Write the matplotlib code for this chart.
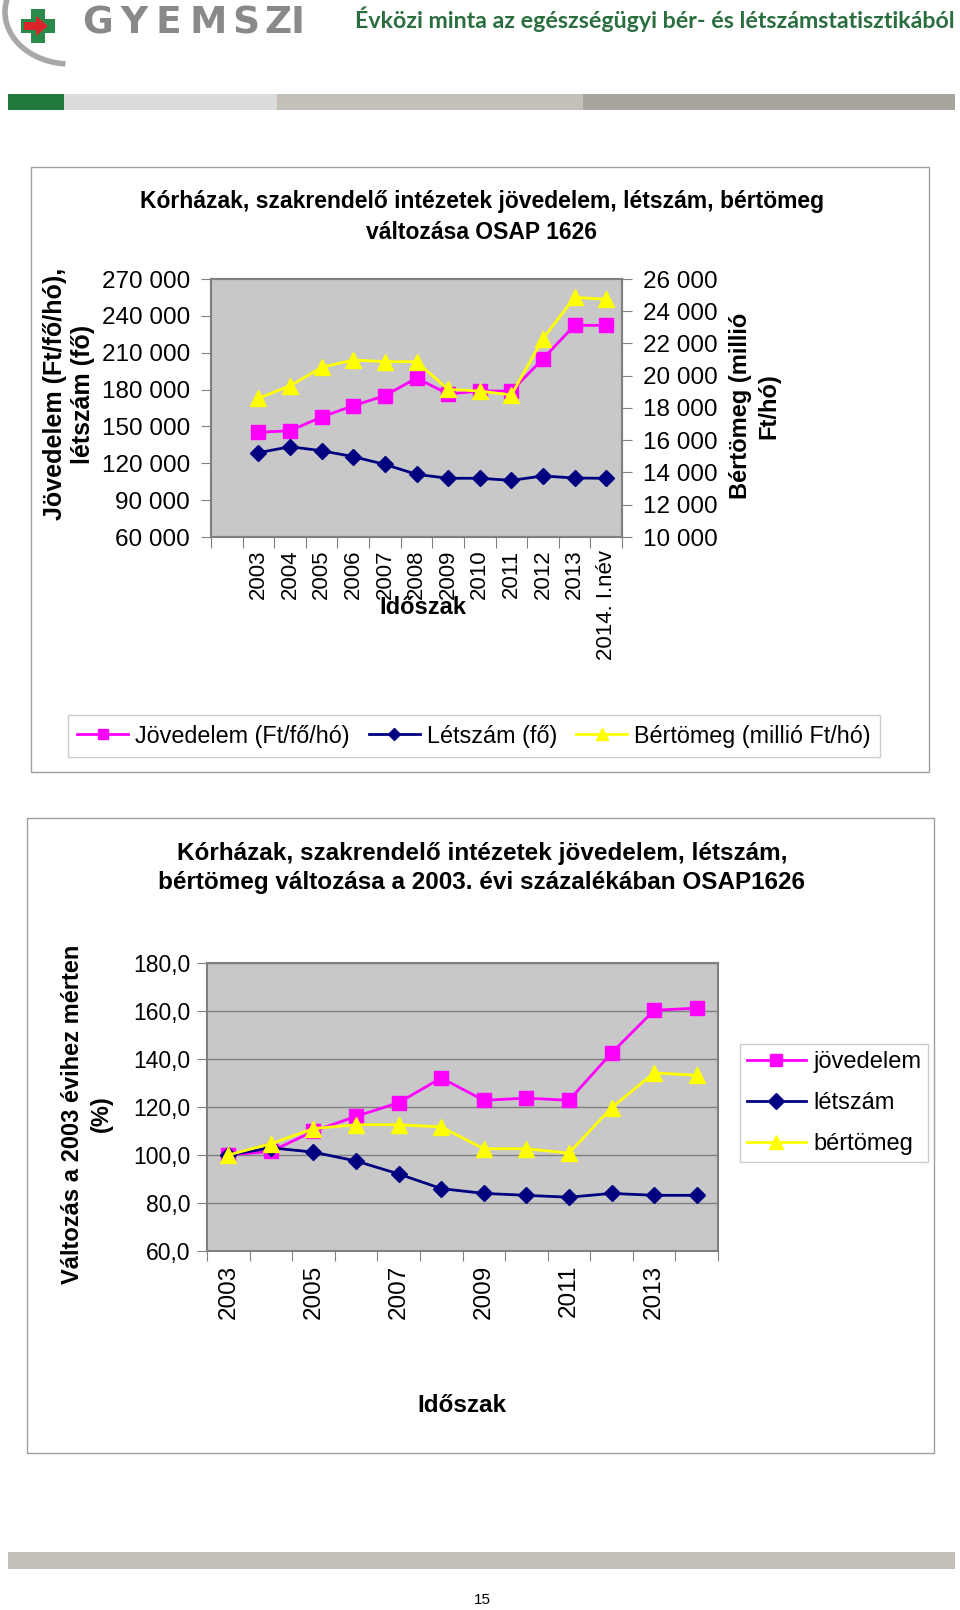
import matplotlib
matplotlib.use('Agg')
import matplotlib.pyplot as plt
import matplotlib.patches as patches
from matplotlib.lines import Line2D
from matplotlib.ticker import FuncFormatter, FixedLocator

plt.rcParams['font.family'] = ['Liberation Sans', 'DejaVu Sans']

# --- data ---
periods_top = ['', '2003', '2004', '2005', '2006', '2007', '2008', '2009',
               '2010', '2011', '2012', '2013', '2014. I.név']
jovedelem = [145200, 146500, 157700, 166900, 175000, 189400, 176400,
             178800, 178800, 205100, 232300, 232300]
letszam = [128600, 133500, 130200, 125400, 119100, 111000, 107800,
           107800, 106100, 109700, 108000, 107800]
bertomeg = [18600, 19380, 20520, 20980, 20870, 20870, 19160,
            19050, 18810, 22300, 24860, 24740]

periods_pct = ['2003', '2004', '2005', '2006', '2007', '2008', '2009',
               '2010', '2011', '2012', '2013', '2014. I.név']
jov_pct = [100.0, 101.5, 109.9, 116.1, 121.8, 132.1, 122.8, 123.7,
           122.8, 142.5, 160.3, 161.2]
let_pct = [100.0, 103.0, 101.2, 97.5, 92.1, 86.0, 84.0, 83.2,
           82.4, 84.0, 83.2, 83.2]
ber_pct = [100.0, 104.7, 111.0, 112.6, 112.6, 111.7, 102.6, 102.6,
           100.8, 119.7, 134.2, 133.2]

PINK = '#ff00ff'
NAVY = '#000080'
YELL = '#ffff00'
PLOTBG = '#c8c8c8'
W, H = 960, 1610

fig = plt.figure(figsize=(W / 100, H / 100), dpi=100)

# page-level drawing in pixel coordinates
bg = fig.add_axes([0, 0, 1, 1], zorder=0)
bg.set_xlim(0, W)
bg.set_ylim(H, 0)
bg.axis('off')


def rect(x0, y0, x1, y1, fc, ec='none', lw=1):
    bg.add_patch(patches.Rectangle((x0, y0), x1 - x0, y1 - y0,
                                   facecolor=fc, edgecolor=ec, linewidth=lw))


# header: logo
bg.add_patch(patches.Arc((70, 12), 130, 104, angle=0, theta1=95, theta2=205,
                         color='#a8a8a8', linewidth=4))
rect(31, 9, 45, 43, '#2a8a4a')
rect(21, 19, 55, 33, '#2a8a4a')
bg.add_patch(patches.Polygon([(24, 22), (36, 22), (36, 16), (48, 26),
                              (36, 36), (36, 30), (24, 30)],
                             facecolor='#d9252a', edgecolor='none'))
for ch, cx in zip('GYEMSZI', [97, 134, 168, 208, 246, 278, 297]):
    bg.text(cx, 23, ch, fontsize=27, color='#898989', va='center',
            ha='center', fontweight='bold', family=['DejaVu Sans'])
bg.text(955, 19, 'Évközi minta az egészségügyi bér- és létszámstatisztikából',
        fontsize=16.7, color='#2a6e3f', fontweight='bold', ha='right',
        va='center', family=['Lato', 'DejaVu Sans'])

# header color bar
rect(8, 94, 64, 110, '#1f7a3c')
rect(64, 94, 277, 110, '#dcdcdc')
rect(277, 94, 583, 110, '#c4c0b9')
rect(583, 94, 955, 110, '#a8a49e')

# footer
rect(8, 1552, 955, 1569, '#c4c0b9')
bg.text(482, 1600, '15', fontsize=11, ha='center', va='center')

# chart frames
rect(31, 167, 929, 772, 'white', '#a0a0a0', 1)
rect(27, 818, 934, 1453, 'white', '#a0a0a0', 1)

# ---------------- top chart ----------------
ax = fig.add_axes([211 / W, 1 - 537 / H, 411 / W, 258 / H], zorder=2)
ax.set_facecolor(PLOTBG)
xs = list(range(1, 13))
ax.plot(xs, jovedelem, color=PINK, lw=2, marker='s', ms=10, zorder=3)
ax.plot(xs, letszam, color=NAVY, lw=2, marker='D', ms=8, zorder=3)
ax2 = ax.twinx()
ax2.plot(xs, bertomeg, color=YELL, lw=2, marker='^', ms=11, zorder=4)
ax.set_xlim(-0.5, 12.5)
ax.set_ylim(60000, 270000)
ax2.set_ylim(10000, 26000)
ax.set_yticks(range(60000, 270001, 30000))
ax2.set_yticks(range(10000, 26001, 2000))
fmt = FuncFormatter(lambda v, p: f'{int(v):,}'.replace(',', ' '))
ax.yaxis.set_major_formatter(fmt)
ax2.yaxis.set_major_formatter(fmt)
ax.xaxis.set_major_locator(FixedLocator([i - 0.5 for i in range(14)]))
ax.xaxis.set_major_formatter(FuncFormatter(lambda v, p: ''))
ax.xaxis.set_minor_locator(FixedLocator(list(range(13))))
ax.set_xticklabels(periods_top, minor=True, rotation=90, fontsize=16,
                   va='top', ha='center')
ax.tick_params(axis='x', which='major', length=8, color='#808080')
ax.tick_params(axis='x', which='minor', length=0, pad=9)
ax.tick_params(axis='y', labelsize=17.5, length=7, color='#808080', pad=8)
ax2.tick_params(axis='y', labelsize=17.5, length=7, color='#808080', pad=8)
for a in (ax, ax2):
    for s in a.spines.values():
        s.set_color('#808080')
        s.set_linewidth(1.5)

bg.text(482, 217, 'Kórházak, szakrendelő intézetek jövedelem, létszám, bértömeg\n'
        'változása OSAP 1626', fontsize=16.5, fontweight='bold', ha='center',
        va='center', linespacing=1.4)
bg.text(69, 394, 'Jövedelem (Ft/fő/hó),\nlétszám (fő)', fontsize=18,
        fontweight='bold', rotation=90, ha='center', va='center',
        linespacing=1.25)
bg.text(755, 406, 'Bértömeg (millió\nFt/hó)', fontsize=17, fontweight='bold',
        rotation=90, ha='center', va='center', linespacing=1.3)
fig.text(423 / W, 1 - 607 / H, 'Időszak', fontsize=17, fontweight='bold',
         ha='center', va='center', zorder=5)

h_top = [Line2D([], [], color=PINK, lw=2, marker='s', ms=7),
         Line2D([], [], color=NAVY, lw=2, marker='D', ms=6),
         Line2D([], [], color=YELL, lw=2, marker='^', ms=8)]
leg = fig.legend(h_top, ['Jövedelem (Ft/fő/hó)', 'Létszám (fő)',
                         'Bértömeg (millió Ft/hó)'],
                 loc='center', bbox_to_anchor=(474 / W, 1 - 736 / H), ncol=3,
                 fontsize=16.8, frameon=True, fancybox=False,
                 edgecolor='#c0c0c0', handlelength=2.2, handletextpad=0.3,
                 columnspacing=0.8, borderpad=0.4)
leg.get_frame().set_linewidth(1)
leg.set_zorder(6)

# ---------------- bottom chart ----------------
bx = fig.add_axes([207 / W, 1 - 1251 / H, 511 / W, 288 / H], zorder=2)
bx.set_facecolor(PLOTBG)
px = list(range(12))
bx.plot(px, jov_pct, color=PINK, lw=2, marker='s', ms=10, zorder=3)
bx.plot(px, let_pct, color=NAVY, lw=2, marker='D', ms=8, zorder=4)
bx.plot(px, ber_pct, color=YELL, lw=2, marker='^', ms=11, zorder=5)
bx.set_xlim(-0.5, 11.5)
bx.set_ylim(60, 180)
bx.set_yticks(range(60, 181, 20))
bx.yaxis.set_major_formatter(FuncFormatter(lambda v, p: f'{v:.1f}'.replace('.', ',')))
bx.grid(axis='y', color='#808080', lw=1)
bx.set_axisbelow(True)
bx.xaxis.set_major_locator(FixedLocator([i - 0.5 for i in range(13)]))
bx.xaxis.set_major_formatter(FuncFormatter(lambda v, p: ''))
bx.xaxis.set_minor_locator(FixedLocator(px[::2]))
bx.set_xticklabels(periods_pct[::2], minor=True, rotation=90, fontsize=17.5,
                   va='top', ha='center')
bx.tick_params(axis='x', which='major', length=7, color='#808080')
bx.tick_params(axis='x', which='minor', length=0, pad=10)
bx.tick_params(axis='y', labelsize=16.5, length=7, color='#808080', pad=5)
for s in bx.spines.values():
    s.set_color('#808080')
    s.set_linewidth(1.5)

bg.text(482, 868, 'Kórházak, szakrendelő intézetek jövedelem, létszám,\n'
        'bértömeg változása a 2003. évi százalékában OSAP1626', fontsize=17.5,
        fontweight='bold', ha='center', va='center', linespacing=1.35)
bg.text(87, 1114, 'Változás a 2003 évihez mérten\n(%)', fontsize=17,
        fontweight='bold', rotation=90, ha='center', va='center',
        linespacing=1.3)
bg.text(462, 1405, 'Időszak', fontsize=17.5, fontweight='bold', ha='center',
        va='center')

h_bot = [Line2D([], [], color=PINK, lw=2, marker='s', ms=9),
         Line2D([], [], color=NAVY, lw=2, marker='D', ms=8),
         Line2D([], [], color=YELL, lw=2, marker='^', ms=10)]
leg2 = fig.legend(h_bot, ['jövedelem', 'létszám', 'bértömeg'], loc='center',
                  bbox_to_anchor=(834 / W, 1 - 1103 / H), ncol=1,
                  fontsize=17, frameon=True, fancybox=False,
                  edgecolor='#c0c0c0', handlelength=2.5, handletextpad=0.3,
                  labelspacing=0.8, borderpad=0.3, borderaxespad=0)
leg2.get_frame().set_linewidth(1)

fig.savefig('out.png', dpi=100)
